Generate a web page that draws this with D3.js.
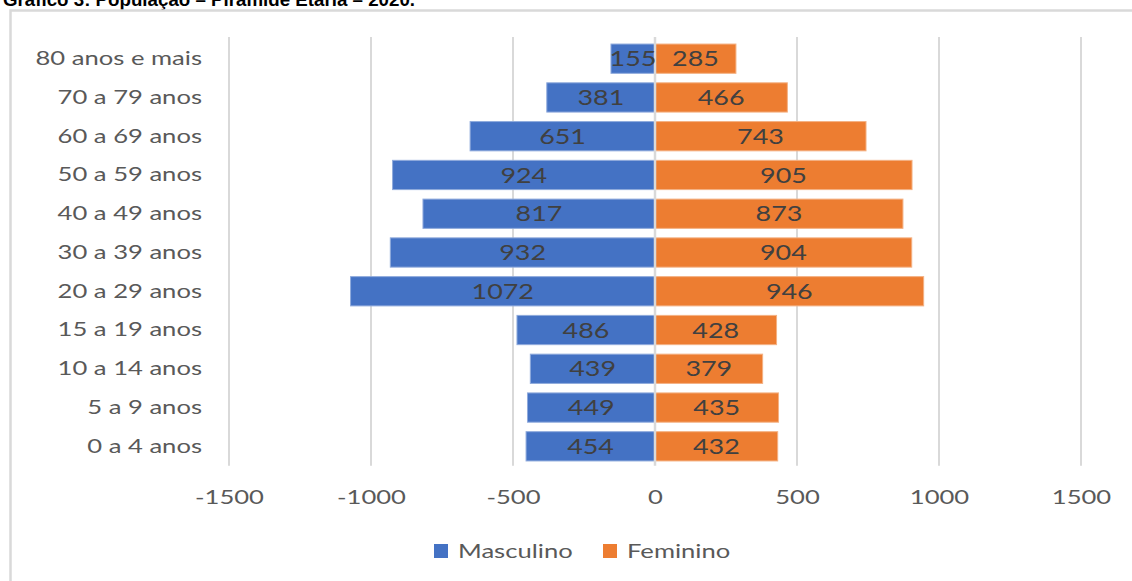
<!DOCTYPE html>
<html>
<head>
<meta charset="utf-8">
<script src="https://cdn.jsdelivr.net/npm/d3@7"></script>
<style>
  html, body { margin: 0; padding: 0; background: #fff; }
  svg { display: block; }
</style>
</head>
<body>
<svg id="chart" width="1132" height="581"></svg>
<script>
// Age groups, listed from the top of the pyramid down
const ageGroups = ["80 anos e mais", "70 a 79 anos", "60 a 69 anos", "50 a 59 anos", "40 a 49 anos",
  "30 a 39 anos", "20 a 29 anos", "15 a 19 anos", "10 a 14 anos", "5 a 9 anos", "0 a 4 anos"];
const masculino = [155, 381, 651, 924, 817, 932, 1072, 486, 439, 449, 454];
const feminino  = [285, 466, 743, 905, 873, 904, 946, 428, 379, 435, 432];
const xTicks = [-1500, -1000, -500, 0, 500, 1000, 1500];
const seriesNames = ["Masculino", "Feminino"];
const seriesColors = ["#4472c4", "#ed7d31"];

const svg = d3.select("#chart");
const W = 1132, H = 581;
const plot = { left: 229, right: 1081, top: 39.3, bottom: 465.7 };
const WIDEN = 1.28; // horizontal widening applied to the chart's text

// Widen each text horizontally around its anchor
function widen(sel, k) {
  sel.each(function () {
    const w = this.getComputedTextLength();
    d3.select(this).attr("textLength", w * k).attr("lengthAdjust", "spacingAndGlyphs");
  });
}

// Title (partly above the top edge of the page)
svg.append("text")
  .attr("x", 3).attr("y", 6)
  .attr("font-family", "Liberation Sans, Arial, sans-serif")
  .attr("font-weight", "bold")
  .attr("font-size", 18)
  .attr("fill", "#000")
  .attr("textLength", 412).attr("lengthAdjust", "spacingAndGlyphs")
  .text("Gráfico 3: População – Pirâmide Etária – 2020.");

// Chart frame
svg.append("path")
  .attr("d", `M10.5,${H + 5} V10.5 H${W + 5}`)
  .attr("fill", "none")
  .attr("stroke", "#d9d9d9")
  .attr("stroke-width", 2.5);

const x = d3.scaleLinear().domain([-1500, 1500]).range([plot.left, plot.right]);
const y = d3.scaleBand().domain(ageGroups).range([plot.top, plot.bottom]).paddingInner(0.245).paddingOuter(0.1225);

// Vertical gridlines
svg.append("g").selectAll("line")
  .data(xTicks.filter(t => t !== 0))
  .join("line")
  .attr("x1", d => x(d)).attr("x2", d => x(d))
  .attr("y1", 37).attr("y2", plot.bottom)
  .attr("stroke", "#d9d9d9").attr("stroke-width", 2);

const rows = ageGroups.map((g, i) => ({ group: g, m: masculino[i], f: feminino[i] }));

// Male bars extend left of zero, female bars right
svg.append("g").selectAll("rect")
  .data(rows).join("rect")
  .attr("x", d => x(-d.m))
  .attr("y", d => y(d.group))
  .attr("width", d => x(0) - x(-d.m))
  .attr("height", y.bandwidth())
  .attr("fill", seriesColors[0])
  .attr("stroke", "#8faadc").attr("stroke-width", 1);

svg.append("g").selectAll("rect")
  .data(rows).join("rect")
  .attr("x", x(0))
  .attr("y", d => y(d.group))
  .attr("width", d => x(d.f) - x(0))
  .attr("height", y.bandwidth())
  .attr("fill", seriesColors[1])
  .attr("stroke", "#f4b183").attr("stroke-width", 1);

// Zero line over the bars
svg.append("line")
  .attr("x1", x(0)).attr("x2", x(0))
  .attr("y1", 37).attr("y2", plot.bottom)
  .attr("stroke", "#d9d9d9").attr("stroke-width", 2.5);

const labelFont = "Lato, 'Open Sans', sans-serif";

// Value labels centred in each bar
svg.append("g").selectAll("text")
  .data(rows).join("text")
  .attr("x", d => (x(-d.m) + x(0)) / 2)
  .attr("y", d => y(d.group) + y.bandwidth() / 2)
  .attr("dy", "0.36em")
  .attr("text-anchor", "middle")
  .attr("font-family", labelFont).attr("font-size", 21)
  .attr("fill", "#404040")
  .text(d => d.m)
  .call(widen, WIDEN);

svg.append("g").selectAll("text")
  .data(rows).join("text")
  .attr("x", d => (x(d.f) + x(0)) / 2)
  .attr("y", d => y(d.group) + y.bandwidth() / 2)
  .attr("dy", "0.36em")
  .attr("text-anchor", "middle")
  .attr("font-family", labelFont).attr("font-size", 21)
  .attr("fill", "#404040")
  .text(d => d.f)
  .call(widen, WIDEN);

// Category axis
const yAxis = svg.append("g")
  .attr("transform", `translate(${202},0)`)
  .call(d3.axisLeft(y).tickSize(0).tickPadding(0));
yAxis.select(".domain").remove();
yAxis.selectAll("text")
  .attr("font-family", labelFont).attr("font-size", 20)
  .attr("fill", "#595959")
  .call(widen, WIDEN);

// Value axis
const xAxis = svg.append("g")
  .attr("transform", `translate(0,${plot.bottom})`)
  .call(d3.axisBottom(x).tickValues(xTicks).tickSize(0).tickPadding(24).tickFormat(d => String(d)));
xAxis.select(".domain").remove();
xAxis.selectAll("text")
  .attr("font-family", labelFont).attr("font-size", 20)
  .attr("fill", "#595959")
  .call(widen, WIDEN);

// Legend
const legendItems = [
  { name: seriesNames[0], color: seriesColors[0], x: 434 },
  { name: seriesNames[1], color: seriesColors[1], x: 603 }
];
const legend = svg.append("g").selectAll("g").data(legendItems).join("g")
  .attr("transform", d => `translate(${d.x},544)`);
legend.append("rect").attr("width", 14).attr("height", 14).attr("fill", d => d.color);
legend.append("text")
  .attr("x", 24).attr("y", 7).attr("dy", "0.36em")
  .attr("font-family", labelFont).attr("font-size", 20)
  .attr("fill", "#595959")
  .text(d => d.name)
  .call(widen, WIDEN);
</script>
</body>
</html>
